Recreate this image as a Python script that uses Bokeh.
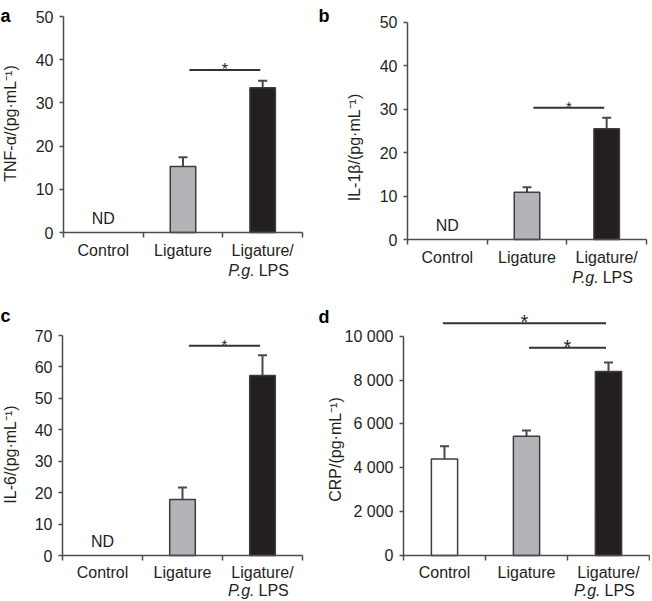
import numpy as np
from bokeh.plotting import figure
from bokeh.layouts import column, row
from bokeh.models import Range1d, FixedTicker, ColumnDataSource, Whisker, TeeHead
from bokeh.embed import file_html
from bokeh.resources import INLINE
from bokeh.core.properties import value

# ---------------- data ----------------
categories = ["Control", "Ligature", "Ligature/P.g. LPS"]
cat_tick_labels = ["Control", "Ligature", "Ligature/"]
bar_colors = ["#ffffff", "#b3b4b7", "#231f20"]

tnf_mean = [np.nan, 15.3, 33.5]
tnf_sem = [np.nan, 2.1, 1.6]
tnf_ticks = [0, 10, 20, 30, 40, 50]
tnf_sig = [("Ligature", "Ligature/P.g. LPS", 37.6)]

il1b_mean = [np.nan, 10.9, 25.5]
il1b_sem = [np.nan, 1.1, 2.5]
il1b_ticks = [0, 10, 20, 30, 40, 50]
il1b_sig = [("Ligature", "Ligature/P.g. LPS", 30.3)]

il6_mean = [np.nan, 17.8, 57.3]
il6_sem = [np.nan, 3.8, 6.4]
il6_ticks = [0, 10, 20, 30, 40, 50, 60, 70]
il6_sig = [("Ligature", "Ligature/P.g. LPS", 66.7)]

crp_mean = [4400, 5440, 8390]
crp_sem = [580, 260, 410]
crp_ticks = [0, 2000, 4000, 6000, 8000, 10000]
crp_tick_labels = ["0", "2 000", "4 000", "6 000", "8 000", "10 000"]
crp_sig = [("Control", "Ligature/P.g. LPS", 10590), ("Ligature", "Ligature/P.g. LPS", 9470)]

FONT = "Liberation Sans"
TXT = "#231f20"
AX = "#4d4d4d"


def make_panel(letter, ylabel, mean, sem, yticks, ytick_labels, sig, star_size,
               fig_w, fig_h, ax_x0, ax_x1, ax_y0, ax_ytop,
               x_standoff, line2_dy, letter_px, title_px, sig_start_off):
    """ax_* are the pixel positions (inside this figure) of the axis ends."""
    n = len(categories)
    kx = (ax_x1 - ax_x0) / n
    ymax = yticks[-1]
    m = (ax_y0 - ax_ytop) / ymax
    p = figure(width=fig_w, height=fig_h, output_backend="svg", toolbar_location=None,
               x_range=Range1d(-ax_x0 / kx, (fig_w - ax_x0) / kx),
               y_range=Range1d((ax_y0 - fig_h) / m, ax_y0 / m),
               min_border=0, min_border_left=0, min_border_right=0,
               min_border_top=0, min_border_bottom=0)
    p.title.visible = False
    p.outline_line_color = None
    p.xgrid.grid_line_color = None
    p.ygrid.grid_line_color = None
    p.background_fill_color = "white"
    p.border_fill_color = "white"

    def px2x(px):
        return (px - ax_x0) / kx

    def py2y(py):
        return (ax_y0 - py) / m

    xc = np.arange(n) + 0.5
    mean = np.array(mean, dtype=float)
    sem = np.array(sem, dtype=float)
    ok = ~np.isnan(mean)

    src = ColumnDataSource(dict(x=xc[ok], top=mean[ok], upper=(mean + sem)[ok],
                                color=[c for c, k in zip(bar_colors, ok) if k]))
    p.add_layout(Whisker(source=src, base="x", lower="top", upper="upper",
                         dimension="height", line_color="#4a4a4a", line_width=2,
                         upper_head=TeeHead(size=9, line_color="#4a4a4a", line_width=2),
                         lower_head=None))
    p.vbar(x="x", top="top", bottom=0, width=0.32, source=src, fill_color="color",
           line_color="#3d3d3d", line_width=1.5)

    # ND labels
    nd_x = xc[~ok]
    if len(nd_x):
        p.text(x=nd_x, y=[0] * len(nd_x), text=["ND"] * len(nd_x),
               text_font=value(FONT), text_font_size="16px", text_color=TXT,
               text_align="center", text_baseline="middle", y_offset=-14)

    # significance bars
    idx = {c: i for i, c in enumerate(categories)}
    x0 = [xc[idx[s]] + (sig_start_off if idx[s] > 0 else -0.02) for s, e, y in sig]
    x1 = [xc[idx[e]] - 0.03 for s, e, y in sig]
    ys = [y for s, e, y in sig]
    p.segment(x0=x0, y0=ys, x1=x1, y1=ys, line_color="#333333", line_width=2)
    p.text(x=[(a + b) / 2 for a, b in zip(x0, x1)], y=ys, text=["*"] * len(ys),
           text_font=value(FONT), text_font_size=star_size, text_color=TXT,
           text_align="center", text_baseline="alphabetic", y_offset=-1)

    # x axis (drawn at y = 0)
    xa = p.xaxis[0]
    xa.fixed_location = 0
    xa.bounds = (0, n)
    xa.ticker = FixedTicker(ticks=list(xc), minor_ticks=list(range(n + 1)))
    xa.major_label_overrides = {float(x): t for x, t in zip(xc, cat_tick_labels)}
    xa.major_tick_line_color = None
    xa.major_tick_out = 0
    xa.minor_tick_out = 5
    xa.minor_tick_in = 0
    xa.minor_tick_line_color = AX
    xa.minor_tick_line_width = 1.5
    xa.axis_line_color = AX
    xa.axis_line_width = 1.5
    xa.major_label_standoff = x_standoff
    xa.major_label_text_font = FONT
    xa.major_label_text_font_size = "16px"
    xa.major_label_text_color = TXT

    # second line of the last category label
    p.text(x=[xc[-1]], y=[0], text=["P.g."], text_font=value(FONT), text_font_size="16px",
           text_font_style="italic", text_color=TXT, text_align="right",
           text_baseline="middle", x_offset=-8, y_offset=line2_dy)
    p.text(x=[xc[-1]], y=[0], text=["LPS"], text_font=value(FONT), text_font_size="16px",
           text_color=TXT, text_align="left", text_baseline="middle",
           x_offset=-4, y_offset=line2_dy)

    # y axis (drawn at x = 0)
    ya = p.yaxis[0]
    ya.fixed_location = 0
    ya.ticker = FixedTicker(ticks=yticks)
    ya.bounds = (yticks[0], yticks[-1])
    ya.major_label_overrides = {float(t): l for t, l in zip(yticks, ytick_labels)}
    ya.major_tick_out = 4
    ya.major_tick_in = 0
    ya.major_tick_line_color = AX
    ya.major_tick_line_width = 1.5
    ya.minor_tick_line_color = None
    ya.axis_line_color = AX
    ya.axis_line_width = 1.5
    ya.major_label_standoff = 6
    ya.major_label_text_font = FONT
    ya.major_label_text_font_size = "16px"
    ya.major_label_text_color = TXT

    # y-axis title (rotated)
    p.text(x=[px2x(title_px[0])], y=[py2y(title_px[1])], text=[ylabel], angle=np.pi / 2,
           text_font=value(FONT), text_font_size="16px", text_color=TXT,
           text_align="center", text_baseline="middle")

    # panel letter
    p.text(x=[px2x(letter_px[0])], y=[py2y(letter_px[1])], text=[letter],
           text_font=value(FONT), text_font_size="18px", text_font_style="bold",
           text_color="#000000", text_align="left", text_baseline="alphabetic")
    return p


pa = make_panel("a", "TNF-α/(pg·mL⁻¹)", tnf_mean, tnf_sem, tnf_ticks,
                [str(t) for t in tnf_ticks], tnf_sig, "16px",
                316, 300, 63, 302, 232, 16, 4, 38, (0, 15), (10, 123), 0.08)
pb = make_panel("b", "IL-1β/(pg·mL⁻¹)", il1b_mean, il1b_sem, il1b_ticks,
                [str(t) for t in il1b_ticks], il1b_sig, "15px",
                334, 300, 91, 330, 239, 21.7, 4, 38, (2, 15), (37.5, 147), 0.08)
pc = make_panel("c", "IL-6/(pg·mL⁻¹)", il6_mean, il6_sem, il6_ticks,
                [str(t) for t in il6_ticks], il6_sig, "15px",
                316, 300, 62, 302, 255, 35, 3, 35, (0, 15), (10, 154), 0.08)
pd = make_panel("d", "CRP/(pg·mL⁻¹)", crp_mean, crp_sem, crp_ticks,
                crp_tick_labels, crp_sig, "20px",
                334, 300, 87, 333, 255, 35.7, 3, 35, (2, 16), (19, 149), 0.03)

layout = column(row(pa, pb), row(pc, pd))
open("out.html", "w").write(file_html(layout, INLINE))
